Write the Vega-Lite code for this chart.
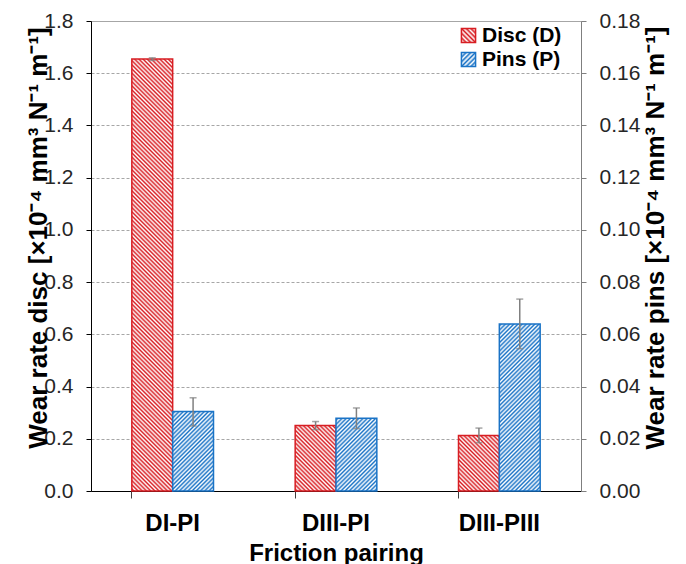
{
"$schema":"https://vega.github.io/schema/vega-lite/v6.json",
"width":490,"height":470,
"autosize":{"type":"none"},
"padding":{"left":91,"top":21,"right":105,"bottom":73},
"background":"white",
"config":{"view":{"stroke":"#a6a6a6","strokeWidth":1},"font":"Liberation Sans"},
"params":[
{"name":"legRed","value":{"gradient":"linear","x1":0,"y1":1,"x2":1,"y2":0,"stops":[{"offset":0,"color":"#d81e23"},{"offset":0.0833,"color":"#fff"},{"offset":0.1667,"color":"#d81e23"},{"offset":0.25,"color":"#fff"},{"offset":0.3333,"color":"#d81e23"},{"offset":0.4167,"color":"#fff"},{"offset":0.5,"color":"#d81e23"},{"offset":0.5833,"color":"#fff"},{"offset":0.6667,"color":"#d81e23"},{"offset":0.75,"color":"#fff"},{"offset":0.8333,"color":"#d81e23"},{"offset":0.9167,"color":"#fff"},{"offset":1,"color":"#d81e23"}]}},
{"name":"legBlue","value":{"gradient":"linear","x1":0,"y1":0,"x2":1,"y2":1,"stops":[{"offset":0,"color":"#1a73c6"},{"offset":0.0833,"color":"#fff"},{"offset":0.1667,"color":"#1a73c6"},{"offset":0.25,"color":"#fff"},{"offset":0.3333,"color":"#1a73c6"},{"offset":0.4167,"color":"#fff"},{"offset":0.5,"color":"#1a73c6"},{"offset":0.5833,"color":"#fff"},{"offset":0.6667,"color":"#1a73c6"},{"offset":0.75,"color":"#fff"},{"offset":0.8333,"color":"#1a73c6"},{"offset":0.9167,"color":"#fff"},{"offset":1,"color":"#1a73c6"}]}},
{"name":"hatch","value":[
{"offset":0,"color":"#fff"},{"offset":0.004,"color":"rgba(255,255,255,0)"},{"offset":0.008,"color":"#fff"},{"offset":0.012,"color":"rgba(255,255,255,0)"},{"offset":0.016,"color":"#fff"},{"offset":0.02,"color":"rgba(255,255,255,0)"},{"offset":0.024,"color":"#fff"},{"offset":0.028,"color":"rgba(255,255,255,0)"},{"offset":0.032,"color":"#fff"},{"offset":0.036,"color":"rgba(255,255,255,0)"},{"offset":0.04,"color":"#fff"},{"offset":0.044,"color":"rgba(255,255,255,0)"},{"offset":0.048,"color":"#fff"},{"offset":0.052,"color":"rgba(255,255,255,0)"},{"offset":0.056,"color":"#fff"},{"offset":0.06,"color":"rgba(255,255,255,0)"},{"offset":0.064,"color":"#fff"},{"offset":0.068,"color":"rgba(255,255,255,0)"},{"offset":0.072,"color":"#fff"},{"offset":0.076,"color":"rgba(255,255,255,0)"},{"offset":0.08,"color":"#fff"},{"offset":0.084,"color":"rgba(255,255,255,0)"},{"offset":0.088,"color":"#fff"},{"offset":0.092,"color":"rgba(255,255,255,0)"},{"offset":0.096,"color":"#fff"},{"offset":0.1,"color":"rgba(255,255,255,0)"},{"offset":0.104,"color":"#fff"},{"offset":0.108,"color":"rgba(255,255,255,0)"},{"offset":0.112,"color":"#fff"},{"offset":0.116,"color":"rgba(255,255,255,0)"},{"offset":0.12,"color":"#fff"},{"offset":0.124,"color":"rgba(255,255,255,0)"},{"offset":0.128,"color":"#fff"},{"offset":0.132,"color":"rgba(255,255,255,0)"},{"offset":0.136,"color":"#fff"},{"offset":0.14,"color":"rgba(255,255,255,0)"},{"offset":0.144,"color":"#fff"},{"offset":0.148,"color":"rgba(255,255,255,0)"},{"offset":0.152,"color":"#fff"},{"offset":0.156,"color":"rgba(255,255,255,0)"},{"offset":0.16,"color":"#fff"},{"offset":0.164,"color":"rgba(255,255,255,0)"},{"offset":0.168,"color":"#fff"},{"offset":0.172,"color":"rgba(255,255,255,0)"},{"offset":0.176,"color":"#fff"},{"offset":0.18,"color":"rgba(255,255,255,0)"},{"offset":0.184,"color":"#fff"},{"offset":0.188,"color":"rgba(255,255,255,0)"},{"offset":0.192,"color":"#fff"},{"offset":0.196,"color":"rgba(255,255,255,0)"},
{"offset":0.2,"color":"#fff"},{"offset":0.204,"color":"rgba(255,255,255,0)"},{"offset":0.208,"color":"#fff"},{"offset":0.212,"color":"rgba(255,255,255,0)"},{"offset":0.216,"color":"#fff"},{"offset":0.22,"color":"rgba(255,255,255,0)"},{"offset":0.224,"color":"#fff"},{"offset":0.228,"color":"rgba(255,255,255,0)"},{"offset":0.232,"color":"#fff"},{"offset":0.236,"color":"rgba(255,255,255,0)"},{"offset":0.24,"color":"#fff"},{"offset":0.244,"color":"rgba(255,255,255,0)"},{"offset":0.248,"color":"#fff"},{"offset":0.252,"color":"rgba(255,255,255,0)"},{"offset":0.256,"color":"#fff"},{"offset":0.26,"color":"rgba(255,255,255,0)"},{"offset":0.264,"color":"#fff"},{"offset":0.268,"color":"rgba(255,255,255,0)"},{"offset":0.272,"color":"#fff"},{"offset":0.276,"color":"rgba(255,255,255,0)"},{"offset":0.28,"color":"#fff"},{"offset":0.284,"color":"rgba(255,255,255,0)"},{"offset":0.288,"color":"#fff"},{"offset":0.292,"color":"rgba(255,255,255,0)"},{"offset":0.296,"color":"#fff"},{"offset":0.3,"color":"rgba(255,255,255,0)"},{"offset":0.304,"color":"#fff"},{"offset":0.308,"color":"rgba(255,255,255,0)"},{"offset":0.312,"color":"#fff"},{"offset":0.316,"color":"rgba(255,255,255,0)"},{"offset":0.32,"color":"#fff"},{"offset":0.324,"color":"rgba(255,255,255,0)"},{"offset":0.328,"color":"#fff"},{"offset":0.332,"color":"rgba(255,255,255,0)"},{"offset":0.336,"color":"#fff"},{"offset":0.34,"color":"rgba(255,255,255,0)"},{"offset":0.344,"color":"#fff"},{"offset":0.348,"color":"rgba(255,255,255,0)"},{"offset":0.352,"color":"#fff"},{"offset":0.356,"color":"rgba(255,255,255,0)"},{"offset":0.36,"color":"#fff"},{"offset":0.364,"color":"rgba(255,255,255,0)"},{"offset":0.368,"color":"#fff"},{"offset":0.372,"color":"rgba(255,255,255,0)"},{"offset":0.376,"color":"#fff"},{"offset":0.38,"color":"rgba(255,255,255,0)"},{"offset":0.384,"color":"#fff"},{"offset":0.388,"color":"rgba(255,255,255,0)"},{"offset":0.392,"color":"#fff"},{"offset":0.396,"color":"rgba(255,255,255,0)"},
{"offset":0.4,"color":"#fff"},{"offset":0.404,"color":"rgba(255,255,255,0)"},{"offset":0.408,"color":"#fff"},{"offset":0.412,"color":"rgba(255,255,255,0)"},{"offset":0.416,"color":"#fff"},{"offset":0.42,"color":"rgba(255,255,255,0)"},{"offset":0.424,"color":"#fff"},{"offset":0.428,"color":"rgba(255,255,255,0)"},{"offset":0.432,"color":"#fff"},{"offset":0.436,"color":"rgba(255,255,255,0)"},{"offset":0.44,"color":"#fff"},{"offset":0.444,"color":"rgba(255,255,255,0)"},{"offset":0.448,"color":"#fff"},{"offset":0.452,"color":"rgba(255,255,255,0)"},{"offset":0.456,"color":"#fff"},{"offset":0.46,"color":"rgba(255,255,255,0)"},{"offset":0.464,"color":"#fff"},{"offset":0.468,"color":"rgba(255,255,255,0)"},{"offset":0.472,"color":"#fff"},{"offset":0.476,"color":"rgba(255,255,255,0)"},{"offset":0.48,"color":"#fff"},{"offset":0.484,"color":"rgba(255,255,255,0)"},{"offset":0.488,"color":"#fff"},{"offset":0.492,"color":"rgba(255,255,255,0)"},{"offset":0.496,"color":"#fff"},{"offset":0.5,"color":"rgba(255,255,255,0)"},{"offset":0.504,"color":"#fff"},{"offset":0.508,"color":"rgba(255,255,255,0)"},{"offset":0.512,"color":"#fff"},{"offset":0.516,"color":"rgba(255,255,255,0)"},{"offset":0.52,"color":"#fff"},{"offset":0.524,"color":"rgba(255,255,255,0)"},{"offset":0.528,"color":"#fff"},{"offset":0.532,"color":"rgba(255,255,255,0)"},{"offset":0.536,"color":"#fff"},{"offset":0.54,"color":"rgba(255,255,255,0)"},{"offset":0.544,"color":"#fff"},{"offset":0.548,"color":"rgba(255,255,255,0)"},{"offset":0.552,"color":"#fff"},{"offset":0.556,"color":"rgba(255,255,255,0)"},{"offset":0.56,"color":"#fff"},{"offset":0.564,"color":"rgba(255,255,255,0)"},{"offset":0.568,"color":"#fff"},{"offset":0.572,"color":"rgba(255,255,255,0)"},{"offset":0.576,"color":"#fff"},{"offset":0.58,"color":"rgba(255,255,255,0)"},{"offset":0.584,"color":"#fff"},{"offset":0.588,"color":"rgba(255,255,255,0)"},{"offset":0.592,"color":"#fff"},{"offset":0.596,"color":"rgba(255,255,255,0)"},
{"offset":0.6,"color":"#fff"},{"offset":0.604,"color":"rgba(255,255,255,0)"},{"offset":0.608,"color":"#fff"},{"offset":0.612,"color":"rgba(255,255,255,0)"},{"offset":0.616,"color":"#fff"},{"offset":0.62,"color":"rgba(255,255,255,0)"},{"offset":0.624,"color":"#fff"},{"offset":0.628,"color":"rgba(255,255,255,0)"},{"offset":0.632,"color":"#fff"},{"offset":0.636,"color":"rgba(255,255,255,0)"},{"offset":0.64,"color":"#fff"},{"offset":0.644,"color":"rgba(255,255,255,0)"},{"offset":0.648,"color":"#fff"},{"offset":0.652,"color":"rgba(255,255,255,0)"},{"offset":0.656,"color":"#fff"},{"offset":0.66,"color":"rgba(255,255,255,0)"},{"offset":0.664,"color":"#fff"},{"offset":0.668,"color":"rgba(255,255,255,0)"},{"offset":0.672,"color":"#fff"},{"offset":0.676,"color":"rgba(255,255,255,0)"},{"offset":0.68,"color":"#fff"},{"offset":0.684,"color":"rgba(255,255,255,0)"},{"offset":0.688,"color":"#fff"},{"offset":0.692,"color":"rgba(255,255,255,0)"},{"offset":0.696,"color":"#fff"},{"offset":0.7,"color":"rgba(255,255,255,0)"},{"offset":0.704,"color":"#fff"},{"offset":0.708,"color":"rgba(255,255,255,0)"},{"offset":0.712,"color":"#fff"},{"offset":0.716,"color":"rgba(255,255,255,0)"},{"offset":0.72,"color":"#fff"},{"offset":0.724,"color":"rgba(255,255,255,0)"},{"offset":0.728,"color":"#fff"},{"offset":0.732,"color":"rgba(255,255,255,0)"},{"offset":0.736,"color":"#fff"},{"offset":0.74,"color":"rgba(255,255,255,0)"},{"offset":0.744,"color":"#fff"},{"offset":0.748,"color":"rgba(255,255,255,0)"},{"offset":0.752,"color":"#fff"},{"offset":0.756,"color":"rgba(255,255,255,0)"},{"offset":0.76,"color":"#fff"},{"offset":0.764,"color":"rgba(255,255,255,0)"},{"offset":0.768,"color":"#fff"},{"offset":0.772,"color":"rgba(255,255,255,0)"},{"offset":0.776,"color":"#fff"},{"offset":0.78,"color":"rgba(255,255,255,0)"},{"offset":0.784,"color":"#fff"},{"offset":0.788,"color":"rgba(255,255,255,0)"},{"offset":0.792,"color":"#fff"},{"offset":0.796,"color":"rgba(255,255,255,0)"},
{"offset":0.8,"color":"#fff"},{"offset":0.804,"color":"rgba(255,255,255,0)"},{"offset":0.808,"color":"#fff"},{"offset":0.812,"color":"rgba(255,255,255,0)"},{"offset":0.816,"color":"#fff"},{"offset":0.82,"color":"rgba(255,255,255,0)"},{"offset":0.824,"color":"#fff"},{"offset":0.828,"color":"rgba(255,255,255,0)"},{"offset":0.832,"color":"#fff"},{"offset":0.836,"color":"rgba(255,255,255,0)"},{"offset":0.84,"color":"#fff"},{"offset":0.844,"color":"rgba(255,255,255,0)"},{"offset":0.848,"color":"#fff"},{"offset":0.852,"color":"rgba(255,255,255,0)"},{"offset":0.856,"color":"#fff"},{"offset":0.86,"color":"rgba(255,255,255,0)"},{"offset":0.864,"color":"#fff"},{"offset":0.868,"color":"rgba(255,255,255,0)"},{"offset":0.872,"color":"#fff"},{"offset":0.876,"color":"rgba(255,255,255,0)"},{"offset":0.88,"color":"#fff"},{"offset":0.884,"color":"rgba(255,255,255,0)"},{"offset":0.888,"color":"#fff"},{"offset":0.892,"color":"rgba(255,255,255,0)"},{"offset":0.896,"color":"#fff"},{"offset":0.9,"color":"rgba(255,255,255,0)"},{"offset":0.904,"color":"#fff"},{"offset":0.908,"color":"rgba(255,255,255,0)"},{"offset":0.912,"color":"#fff"},{"offset":0.916,"color":"rgba(255,255,255,0)"},{"offset":0.92,"color":"#fff"},{"offset":0.924,"color":"rgba(255,255,255,0)"},{"offset":0.928,"color":"#fff"},{"offset":0.932,"color":"rgba(255,255,255,0)"},{"offset":0.936,"color":"#fff"},{"offset":0.94,"color":"rgba(255,255,255,0)"},{"offset":0.944,"color":"#fff"},{"offset":0.948,"color":"rgba(255,255,255,0)"},{"offset":0.952,"color":"#fff"},{"offset":0.956,"color":"rgba(255,255,255,0)"},{"offset":0.96,"color":"#fff"},{"offset":0.964,"color":"rgba(255,255,255,0)"},{"offset":0.968,"color":"#fff"},{"offset":0.972,"color":"rgba(255,255,255,0)"},{"offset":0.976,"color":"#fff"},{"offset":0.98,"color":"rgba(255,255,255,0)"},{"offset":0.984,"color":"#fff"},{"offset":0.988,"color":"rgba(255,255,255,0)"},{"offset":0.992,"color":"#fff"},{"offset":0.996,"color":"rgba(255,255,255,0)"},
{"offset":1,"color":"#fff"}
]}],
"datasets":{"wear":[
 {"pairing":"DI-PI","series":"Disc (D)","value":1.654,"low":1.649,"high":1.659},
 {"pairing":"DI-PI","series":"Pins (P)","value":0.0304,"low":0.0249,"high":0.0357},
 {"pairing":"DIII-PI","series":"Disc (D)","value":0.251,"low":0.235,"high":0.266},
 {"pairing":"DIII-PI","series":"Pins (P)","value":0.0279,"low":0.0239,"high":0.0318},
 {"pairing":"DIII-PIII","series":"Disc (D)","value":0.213,"low":0.185,"high":0.241},
 {"pairing":"DIII-PIII","series":"Pins (P)","value":0.064,"low":0.0545,"high":0.0735}
]},
"data":{"name":"wear"},
"encoding":{
 "x":{"field":"pairing","type":"nominal","sort":["DI-PI","DIII-PI","DIII-PIII"],"scale":{"paddingInner":0.5,"paddingOuter":0.25},"title":"Friction pairing",
  "axis":{"bandPosition":0,"labelAngle":0,"labelFont":"Liberation Sans","labelFontSize":24,"labelFontWeight":"bold","labelColor":"black","labelPadding":13,"tickSize":7,"tickColor":"#404040","domainColor":"black","domainWidth":1,"titleFont":"Liberation Sans","titleFontSize":24,"titleFontWeight":"bold","titleColor":"black","titleBaseline":"alphabetic","titleY":69,"grid":false}},
 "xOffset":{"field":"series","type":"nominal","sort":["Disc (D)","Pins (P)"],"scale":{"domain":["Disc (D)","Pins (P)"],"paddingInner":0,"paddingOuter":0}}
},
"layer":[
 {"transform":[{"filter":"datum.series === 'Disc (D)'"}],
  "encoding":{"y":{"field":"value","type":"quantitative","scale":{"domain":[0,1.8],"nice":false},"title":"Wear rate disc [×10⁻⁴ mm³ N⁻¹ m⁻¹]",
   "axis":{"orient":"left","values":[0,0.2,0.4,0.6,0.8,1,1.2,1.4,1.6,1.8],"format":".1f","grid":true,"gridDash":[3,2],"gridColor":"#a6a6a6","domainColor":"black","tickColor":"black","tickSize":5,"labelFont":"Liberation Sans","labelFontSize":21,"labelColor":"#262626","labelPadding":13,"titleFont":"Liberation Sans","titleFontSize":26,"titleFontWeight":"bold","titleColor":"black","titleAngle":270,"titleBaseline":"alphabetic","titleAlign":"center","titleX":-44.5,"titleY":216.5}}},
  "layer":[
   {"mark":{"type":"bar","fill":"#d81e23","strokeWidth":0}},
   {"mark":{"type":"bar","fill":{"expr":"isString(datum.value) ? (datum.value === 'Disc (D)' ? legRed : legBlue) : {gradient:'linear',x1:0,y1:1,x2:525/(40.833*(1+pow(datum.value*6.3946,2))),y2:1-525*datum.value*6.3946/(40.833*(1+pow(datum.value*6.3946,2))),stops:hatch}"},"strokeWidth":1.5},
    "encoding":{"stroke":{"field":"series","type":"nominal","scale":{"domain":["Disc (D)","Pins (P)"],"range":["#d81e23","#1a73c6"]},
     "legend":{"title":null,"orient":"none","legendX":367,"legendY":4,"padding":0,"symbolType":"square","symbolSize":200,"symbolStrokeWidth":1.5,"symbolOpacity":1,"labelFont":"Liberation Sans","labelFontSize":21,"labelFontWeight":"bold","labelColor":"black","labelOffset":3,"rowPadding":2}}}},
   {"mark":{"type":"rule","color":"#808080","strokeWidth":1.5},
    "encoding":{"y":{"field":"low","type":"quantitative","scale":{"domain":[0,1.8],"nice":false},"title":"Wear rate disc [×10⁻⁴ mm³ N⁻¹ m⁻¹]"},"y2":{"field":"high"}}},
   {"mark":{"type":"tick","color":"#808080","thickness":1.5,"size":7},
    "encoding":{"y":{"field":"low","type":"quantitative","scale":{"domain":[0,1.8],"nice":false},"title":"Wear rate disc [×10⁻⁴ mm³ N⁻¹ m⁻¹]"}}},
   {"mark":{"type":"tick","color":"#808080","thickness":1.5,"size":7},
    "encoding":{"y":{"field":"high","type":"quantitative","scale":{"domain":[0,1.8],"nice":false},"title":"Wear rate disc [×10⁻⁴ mm³ N⁻¹ m⁻¹]"}}}
  ]},
 {"transform":[{"filter":"datum.series === 'Pins (P)'"}],
  "encoding":{"y":{"field":"value","type":"quantitative","scale":{"domain":[0,0.18],"nice":false},"title":"Wear rate pins [×10⁻⁴ mm³ N⁻¹ m⁻¹]",
   "axis":{"orient":"right","values":[0,0.02,0.04,0.06,0.08,0.1,0.12,0.14,0.16,0.18],"format":".2f","grid":false,"domainColor":"#7f7f7f","tickColor":"#7f7f7f","tickSize":5,"labelFont":"Liberation Sans","labelFontSize":21,"labelColor":"#262626","labelPadding":13,"titleFont":"Liberation Sans","titleFontSize":26,"titleFontWeight":"bold","titleColor":"black","titleAngle":270,"titleBaseline":"alphabetic","titleAlign":"center","titleX":82.5,"titleY":216.5}}},
  "layer":[
   {"mark":{"type":"bar","fill":"#1a73c6","strokeWidth":0}},
   {"mark":{"type":"bar","fill":{"expr":"isString(datum.value) ? (datum.value === 'Disc (D)' ? legRed : legBlue) : {gradient:'linear',x1:0,y1:0,x2:525/(40.833*(1+pow(datum.value*63.946,2))),y2:525*datum.value*63.946/(40.833*(1+pow(datum.value*63.946,2))),stops:hatch}"},"strokeWidth":1.5},
    "encoding":{"stroke":{"field":"series","type":"nominal","scale":{"domain":["Disc (D)","Pins (P)"],"range":["#d81e23","#1a73c6"]}}}},
   {"mark":{"type":"rule","color":"#808080","strokeWidth":1.5},
    "encoding":{"y":{"field":"low","type":"quantitative","scale":{"domain":[0,0.18],"nice":false},"title":"Wear rate pins [×10⁻⁴ mm³ N⁻¹ m⁻¹]"},"y2":{"field":"high"}}},
   {"mark":{"type":"tick","color":"#808080","thickness":1.5,"size":7},
    "encoding":{"y":{"field":"low","type":"quantitative","scale":{"domain":[0,0.18],"nice":false},"title":"Wear rate pins [×10⁻⁴ mm³ N⁻¹ m⁻¹]"}}},
   {"mark":{"type":"tick","color":"#808080","thickness":1.5,"size":7},
    "encoding":{"y":{"field":"high","type":"quantitative","scale":{"domain":[0,0.18],"nice":false},"title":"Wear rate pins [×10⁻⁴ mm³ N⁻¹ m⁻¹]"}}}
  ]}
],
"resolve":{"scale":{"y":"independent"}}
}
